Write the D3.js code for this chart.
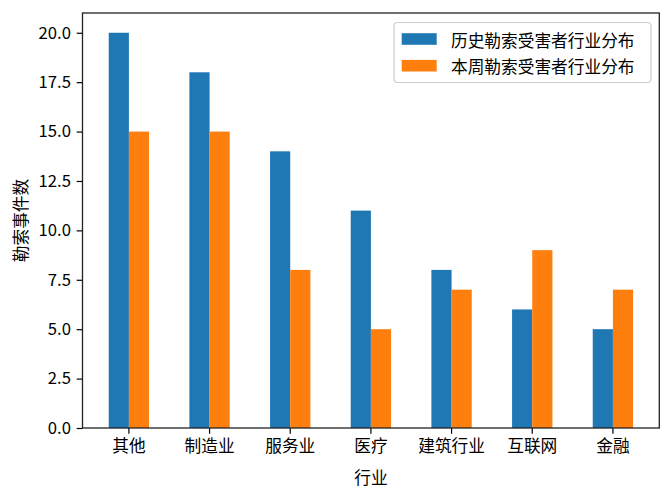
<!DOCTYPE html>
<html>
<head>
<meta charset="utf-8">
<script src="https://cdn.jsdelivr.net/npm/d3@7"></script>
<style>
  html, body { margin: 0; padding: 0; background: #fff; }
  svg { display: block; }
  text { font-family: "Noto Sans CJK SC", "DejaVu Sans", sans-serif; fill: #000; }
</style>
</head>
<body>
<svg id="chart" width="672" height="498"></svg>
<script>
const categories = ["其他", "制造业", "服务业", "医疗", "建筑行业", "互联网", "金融"];
const historyValues = [20, 18, 14, 11, 8, 6, 5];
const weekValues = [15, 15, 8, 5, 7, 9, 7];
const seriesNames = ["历史勒索受害者行业分布", "本周勒索受害者行业分布"];
const seriesColors = ["#1f77b4", "#ff7f0e"];
const yTicks = [0, 2.5, 5, 7.5, 10, 12.5, 15, 17.5, 20];
const xLabel = "行业";
const yLabel = "勒索事件数";

const W = 672, H = 498;
const m = { left: 82.5, right: 659.3, top: 13, bottom: 428 };
const fs = 16.7;

const svg = d3.select("#chart");

const x = d3.scaleBand()
  .domain(categories)
  .range([m.left, m.right])
  .paddingInner(0.5)
  .paddingOuter(0.325);

const y = d3.scaleLinear().domain([0, 21]).range([m.bottom, m.top]);

const series = [historyValues, weekValues];
const bw = x.bandwidth() / 2;

series.forEach((vals, s) => {
  svg.append("g").selectAll("rect")
    .data(categories.map((c, i) => ({ c, v: vals[i] })))
    .join("rect")
    .attr("x", d => x(d.c) + s * bw)
    .attr("y", d => y(d.v))
    .attr("width", bw)
    .attr("height", d => y(0) - y(d.v))
    .attr("fill", seriesColors[s]);
});

// Axes
const yAxis = d3.axisLeft(y).tickValues(yTicks).tickFormat(d3.format(".1f")).tickSize(5.8).tickPadding(5.8);
const gy = svg.append("g").attr("transform", `translate(${m.left},0)`).call(yAxis);
gy.select(".domain").remove();
gy.selectAll(".tick line").attr("stroke", "#000").attr("stroke-width", 1.2);
gy.selectAll(".tick text").attr("font-size", fs).attr("font-family", "'Noto Sans CJK SC', sans-serif").attr("fill", "#000");

const xAxis = d3.axisBottom(x).tickSize(5.8).tickPadding(5.8);
const gx = svg.append("g").attr("transform", `translate(0,${m.bottom})`).call(xAxis);
gx.select(".domain").remove();
gx.selectAll(".tick line").attr("stroke", "#000").attr("stroke-width", 1.2);
gx.selectAll(".tick text").attr("font-size", fs).attr("font-family", "'Noto Sans CJK SC', sans-serif").attr("fill", "#000").attr("dy", "0.75em");

// Frame
svg.append("rect")
  .attr("x", m.left).attr("y", m.top)
  .attr("width", m.right - m.left).attr("height", m.bottom - m.top)
  .attr("fill", "none").attr("stroke", "#222").attr("stroke-width", 1.3);

// Axis labels
svg.append("text")
  .attr("x", (m.left + m.right) / 2).attr("y", 477)
  .attr("text-anchor", "middle").attr("dominant-baseline", "central")
  .attr("font-size", fs).text(xLabel);

svg.append("text")
  .attr("transform", `translate(19.5,${(m.top + m.bottom) / 2}) rotate(-90)`)
  .attr("text-anchor", "middle").attr("dominant-baseline", "central")
  .attr("font-size", fs).text(yLabel);

// Legend
const lg = svg.append("g");
lg.append("rect")
  .attr("x", 394).attr("y", 22.5).attr("width", 257).attr("height", 60)
  .attr("rx", 3.5).attr("ry", 3.5)
  .attr("fill", "#fff").attr("fill-opacity", 0.8)
  .attr("stroke", "#ccc").attr("stroke-width", 1.2);
seriesNames.forEach((name, i) => {
  const cy = 39 + i * 26.7;
  lg.append("rect")
    .attr("x", 401.7).attr("y", cy - 5.8).attr("width", 35).attr("height", 11.6)
    .attr("fill", seriesColors[i]);
  lg.append("text")
    .attr("x", 451).attr("y", cy + 0.5)
    .attr("dominant-baseline", "central")
    .attr("font-size", fs).text(name);
});
</script>
</body>
</html>
